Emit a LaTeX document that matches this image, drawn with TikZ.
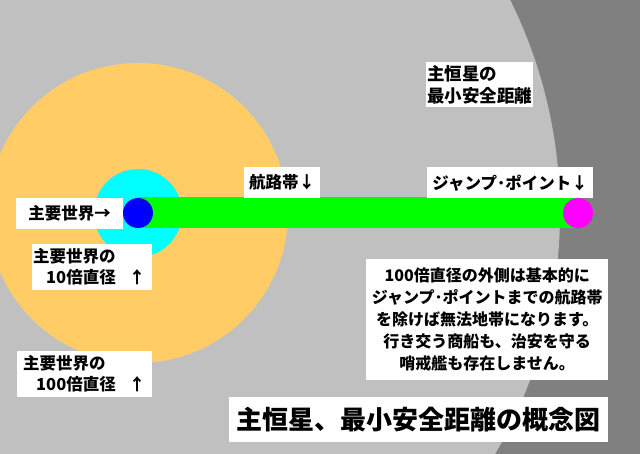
\documentclass[tikz,border=0pt]{standalone}
\usepackage{fontspec}
\newfontfamily\jpfont{Noto Sans CJK JP}
\usepackage{xcolor}
\usetikzlibrary{positioning}
\definecolor{spacegray}{HTML}{808080}
\definecolor{safegray}{HTML}{C0C0C0}
\definecolor{zoneorange}{HTML}{FFCC66}
\definecolor{zonecyan}{HTML}{00FFFF}
\definecolor{worldblue}{HTML}{0000FF}
\definecolor{routegreen}{HTML}{00FF00}
\definecolor{jumpmagenta}{HTML}{FF00FF}

\begin{document}
\begin{tikzpicture}[
    x=1pt, y=-1pt,
    lbl/.style={fill=white, inner sep=0pt, anchor=north west, font=\jpfont\bfseries\fontsize{16.5}{21}\selectfont},
    dot/.style={circle, inner sep=0pt, minimum size=30pt}
]
% Backdrop
\useasboundingbox (0,0) rectangle (640,454);
\fill[spacegray] (0,0) rectangle (640,454);
\begin{scope}
\clip (0,0) rectangle (640,454);
\fill[safegray] (81,213) circle[radius=479];
\fill[zoneorange] (138,213) circle[radius=150];
\fill[zonecyan] (138,213) circle[radius=44];
\end{scope}

% Route
\coordinate (worldc) at (138,213);
\coordinate (jumpc) at (578,213);
\draw[routegreen, line width=31pt] (worldc) -- (jumpc);
\node[dot, fill=worldblue] (world) at (worldc) {};
\node[dot, fill=jumpmagenta] (jump) at (jumpc) {};

% Labels
\node[lbl, minimum width=107pt, minimum height=31pt] (worldlbl) at (16,198) {主要世界→};
\node[lbl, text width=118pt, inner xsep=1pt, minimum height=46pt, align=left] (tenlbl) at (32,244)
    {主要世界の\\\hspace*{13pt}10倍直径\hspace{13pt}↑};
\node[lbl, text width=123pt, inner xsep=6pt, minimum height=46pt, align=left] (hundredlbl) at (17,351)
    {主要世界の\\\hspace*{13pt}100倍直径\hspace{13pt}↑};
\node[lbl, minimum width=76pt, minimum height=31pt] (routelbl) at (244,167) {航路帯↓};
\node[lbl, minimum width=166pt, minimum height=31pt] (jumplbl) at (427,167) {ジャンプ･ポイント↓};
\node[lbl, text width=105pt, inner xsep=1pt, minimum height=45pt, align=left,
    font=\jpfont\bfseries\fontsize{17.5}{22}\selectfont] (starlbl) at (426,62) {主恒星の\\最小安全距離};

% Note
\node[lbl, minimum width=242pt, minimum height=121pt, align=center,
    font=\jpfont\bfseries\fontsize{16}{22}\selectfont] (note) at (366,259)
    {100倍直径の外側は基本的に\\ジャンプ･ポイントまでの航路帯\\を除けば無法地帯になります。\\行き交う商船も、治安を守る\\哨戒艦も存在しません。};

% Title
\node[lbl, minimum width=379pt, minimum height=45pt, font=\jpfont\bfseries\fontsize{26}{30}\selectfont] (title) at (229,397)
    {主恒星、最小安全距離の概念図};
\end{tikzpicture}
\end{document}
